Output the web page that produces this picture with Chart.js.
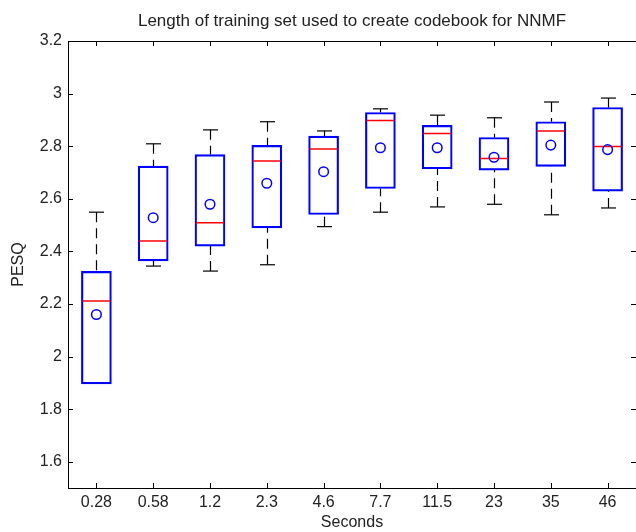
<!DOCTYPE html>
<html>
<head>
<meta charset="utf-8">
<title>PESQ boxplot</title>
<script src="https://cdn.jsdelivr.net/npm/chart.js"></script>
<style>
    body { margin: 0; background: #fff; overflow: hidden; }
    .chart-box { width: 636px; height: 532px; }
</style>
</head>
<body>
<div class="chart-box">
    <canvas id="boxChart" width="636" height="532"></canvas>
</div>
<script>
// Datos (segundos de entrenamiento vs PESQ)
const categories = ['0.28', '0.58', '1.2', '2.3', '4.6', '7.7', '11.5', '23', '35', '46'];
const whiskerHigh = [2.549, 2.809, 2.862, 2.893, 2.858, 2.942, 2.918, 2.908, 2.968, 2.983];
const q3 = [2.324, 2.724, 2.768, 2.803, 2.838, 2.928, 2.879, 2.833, 2.893, 2.947];
const medians = [2.211, 2.439, 2.509, 2.744, 2.789, 2.898, 2.848, 2.753, 2.858, 2.799];
const means = [2.160, 2.528, 2.579, 2.659, 2.703, 2.794, 2.794, 2.758, 2.804, 2.787];
const q1 = [1.896, 2.364, 2.420, 2.489, 2.540, 2.639, 2.714, 2.709, 2.723, 2.629];
const whiskerLow = [1.896, 2.344, 2.325, 2.349, 2.494, 2.549, 2.569, 2.579, 2.539, 2.565];
const yTicks = [1.6, 1.8, 2, 2.2, 2.4, 2.6, 2.8, 3, 3.2];

const fontFamily = '"Liberation Sans", Arial, sans-serif';
const textColor = '#222';

// Bigotes discontinuos y sus topes
const whiskerPlugin = {
    id: 'whiskers',
    beforeDatasetsDraw(chart) {
        const { ctx, scales: { x, y } } = chart;
        ctx.save();
        ctx.strokeStyle = '#000';
        ctx.lineWidth = 1.2;
        categories.forEach((c, i) => {
            const px = Math.round(x.getPixelForValue(i)) + 0.5;
            const pairs = [[q3[i], whiskerHigh[i]], [q1[i], whiskerLow[i]]];
            pairs.forEach(([from, to]) => {
                if (from === to) return;
                const y0 = y.getPixelForValue(from);
                const y1 = y.getPixelForValue(to);
                ctx.setLineDash([10, 6]);
                ctx.beginPath();
                ctx.moveTo(px, y1);
                ctx.lineTo(px, y0);
                ctx.stroke();
                // tope
                ctx.setLineDash([]);
                ctx.beginPath();
                ctx.moveTo(px - 7.5, y1);
                ctx.lineTo(px + 7.5, y1);
                ctx.stroke();
            });
        });
        ctx.restore();
    }
};

// Marco completo con marcas hacia dentro (estilo MATLAB)
const framePlugin = {
    id: 'frame',
    afterDraw(chart) {
        const { ctx, chartArea: { left, right, top, bottom }, scales: { x, y } } = chart;
        ctx.save();
        ctx.strokeStyle = '#000';
        ctx.lineWidth = 1;
        ctx.strokeRect(Math.round(left) + 0.5, Math.round(top) + 0.5,
            Math.round(right - left), Math.round(bottom - top));
        ctx.beginPath();
        yTicks.forEach(v => {
            const py = Math.round(y.getPixelForValue(v)) + 0.5;
            ctx.moveTo(left, py);
            ctx.lineTo(left + 5, py);
            ctx.moveTo(right - 5, py);
            ctx.lineTo(right, py);
        });
        categories.forEach((c, i) => {
            const px = Math.round(x.getPixelForValue(i)) + 0.5;
            ctx.moveTo(px, bottom);
            ctx.lineTo(px, bottom - 5);
            ctx.moveTo(px, top);
            ctx.lineTo(px, top + 5);
        });
        ctx.stroke();
        ctx.restore();
    }
};

const ctx = document.getElementById('boxChart').getContext('2d');

window.boxChart = new Chart(ctx, {
    type: 'bar',
    data: {
        labels: categories,
        datasets: [
            {
                label: 'Caja',
                data: q1.map((v, i) => [v, q3[i]]),
                backgroundColor: 'rgba(0, 0, 0, 0)',
                borderColor: '#0000ff',
                borderWidth: 1.5,
                borderSkipped: false,
                barThickness: 30,
                order: 3
            },
            {
                type: 'line',
                label: 'Mediana',
                data: medians,
                showLine: false,
                pointStyle: 'line',
                pointRadius: 14,
                borderColor: '#ff0000',
                borderWidth: 1.5,
                order: 2
            },
            {
                type: 'line',
                label: 'Media',
                data: means,
                showLine: false,
                pointStyle: 'circle',
                pointRadius: 4.8,
                pointBackgroundColor: 'rgba(0, 0, 0, 0)',
                pointBorderColor: '#0000ff',
                pointBorderWidth: 1.5,
                order: 1
            }
        ]
    },
    options: {
        responsive: false,
        animation: false,
        events: [],
        layout: {
            autoPadding: false,
            padding: { left: 0, right: -1.2, top: 0, bottom: 0 }
        },
        plugins: {
            legend: { display: false },
            tooltip: { enabled: false },
            title: {
                display: true,
                text: 'Length of training set used to create codebook for NNMF',
                fullSize: false,
                color: textColor,
                font: { family: fontFamily, size: 17, weight: 'normal' },
                padding: { top: 11.5, bottom: 9.1 }
            }
        },
        scales: {
            x: {
                grid: { display: false, drawTicks: false },
                border: { display: false },
                ticks: {
                    color: textColor,
                    font: { family: fontFamily, size: 16 },
                    padding: 5,
                    maxRotation: 0,
                    autoSkip: false
                },
                title: {
                    display: true,
                    text: 'Seconds',
                    color: textColor,
                    font: { family: fontFamily, size: 16 },
                    padding: { top: 0, bottom: 0 }
                },
                afterFit: scale => {
                    scale.height = 44;
                    scale.paddingLeft = 0;
                    scale.paddingRight = 0;
                }
            },
            y: {
                min: 1.5,
                max: 3.2,
                grid: { display: false, drawTicks: false },
                border: { display: false },
                afterBuildTicks: scale => {
                    scale.ticks = yTicks.map(v => ({ value: v }));
                },
                ticks: {
                    color: textColor,
                    font: { family: fontFamily, size: 16 },
                    padding: 6,
                    callback: value => value.toString()
                },
                title: {
                    display: true,
                    text: 'PESQ',
                    color: textColor,
                    font: { family: fontFamily, size: 16 },
                    padding: { top: 8.7, bottom: 0 }
                },
                afterFit: scale => { scale.width = 68; }
            }
        }
    },
    plugins: [whiskerPlugin, framePlugin]
});
</script>
</body>
</html>
